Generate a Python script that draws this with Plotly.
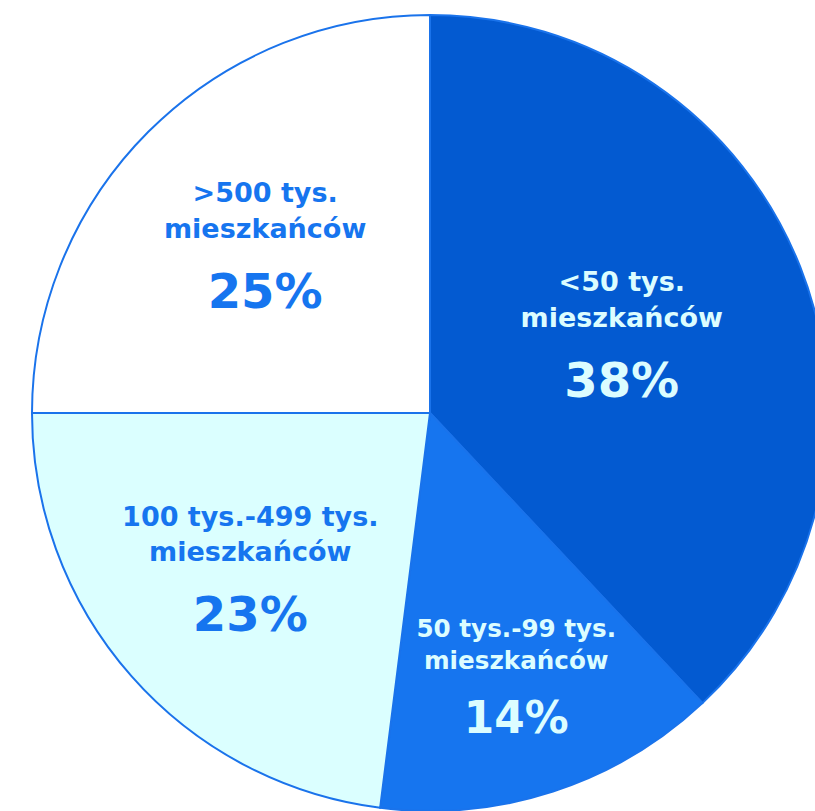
import plotly.graph_objects as go

categories = ["&lt;50 tys.<br>mieszkańców", "50 tys.-99 tys.<br>mieszkańców",
              "100 tys.-499 tys.<br>mieszkańców", "&gt;500 tys.<br>mieszkańców"]
values = [38, 14, 23, 25]
colors = ["#035ad1", "#1675ef", "#dbffff", "#ffffff"]
text_colors = ["#dcfdff", "#dcfdff", "#1675ef", "#1675ef"]

fig = go.Figure(go.Pie(
    labels=categories,
    values=values,
    sort=False,
    direction="clockwise",
    rotation=0,
    marker=dict(colors=colors, line=dict(color="#1a73eb", width=2)),
    texttemplate="<b>%{label}</b><br> <br><b><span style='font-size:48px'>%{percent:.0%}</span></b>",
    textposition="inside",
    insidetextorientation="horizontal",
    textfont=dict(family="DejaVu Sans, sans-serif", size=27, color=text_colors),
    hoverinfo="none",
    showlegend=False,
))

fig.update_layout(
    width=860, height=811,
    margin=dict(l=0, r=0, t=15, b=0),
    paper_bgcolor="white",
    showlegend=False,
)

fig.write_html("out.html", config={"displayModeBar": False},
               post_script="document.body.style.margin='0';document.body.style.overflow='hidden';document.documentElement.style.overflow='hidden';")
